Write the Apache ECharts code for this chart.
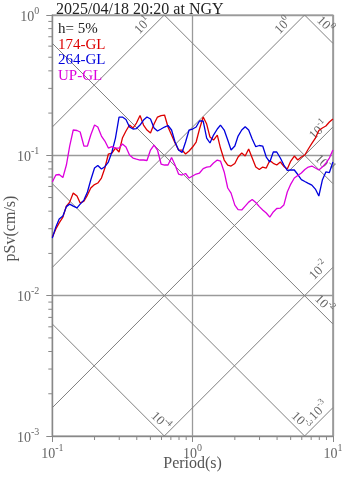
<!DOCTYPE html>
<html>
<head>
<meta charset="utf-8">
<script src="https://cdn.jsdelivr.net/npm/echarts@6/dist/echarts.min.js"></script>
<style>
html,body{margin:0;padding:0;background:#fff}
#chart{width:347px;height:478px}
</style>
</head>
<body>
<div id="chart"></div>
<script>
// Pseudo-velocity response spectra (h = 5%), tripartite log-log plot
const periods = [0.100,0.106,0.112,0.119,0.126,0.133,0.141,0.150,0.158,0.168,
  0.178,0.188,0.200,0.211,0.224,0.237,0.251,0.266,0.282,0.299,
  0.316,0.335,0.355,0.376,0.398,0.422,0.447,0.473,0.501,0.531,
  0.562,0.596,0.631,0.668,0.708,0.750,0.794,0.841,0.891,0.944,
  1.00,1.06,1.12,1.19,1.26,1.33,1.41,1.50,1.58,1.68,
  1.78,1.88,2.00,2.11,2.24,2.37,2.51,2.66,2.82,2.99,
  3.16,3.35,3.55,3.76,3.98,4.22,4.47,4.73,5.01,5.31,
  5.62,5.96,6.31,6.68,7.08,7.50,7.94,8.41,8.91,9.44,10.0];

const sv174 = [0.0261,0.0299,0.0330,0.0363,0.0435,0.0464,0.0538,0.0513,0.0457,0.0472,
  0.0521,0.0585,0.0619,0.0635,0.0689,0.0812,0.1022,0.1039,0.1127,0.1056,
  0.1328,0.1490,0.1644,0.1566,0.1699,0.1921,0.1644,0.1515,0.1442,0.1671,
  0.1874,0.1921,0.1937,0.1591,0.1395,0.1224,0.1091,0.1091,0.1022,0.1073,
  0.1146,0.1244,0.1540,0.1874,0.1671,0.1350,0.1285,0.1395,0.1127,0.0926,
  0.0853,0.0839,0.0874,0.0973,0.1039,0.0989,0.1109,0.0957,0.0825,0.0792,
  0.0825,0.0812,0.0919,0.0877,0.0853,0.0896,0.0833,0.0799,0.0911,0.0989,
  0.0926,0.0973,0.1005,0.1109,0.1217,0.1328,0.1503,0.1566,0.1617,0.1727,0.1815];

const sv264 = [0.0257,0.0309,0.0352,0.0369,0.0431,0.0449,0.0435,0.0422,0.0449,0.0480,
  0.0548,0.0667,0.0812,0.0846,0.0799,0.0830,0.0896,0.1056,0.1328,0.1874,
  0.1874,0.1799,0.1591,0.1540,0.1552,0.1644,0.1785,0.1874,0.1815,0.1566,
  0.1490,0.1540,0.1591,0.1631,0.1515,0.1244,0.1091,0.1047,0.1244,0.1515,
  0.1540,0.1591,0.1756,0.1756,0.1328,0.1224,0.1395,0.1540,0.1644,0.1515,
  0.1285,0.1091,0.1165,0.1372,0.1515,0.1600,0.1515,0.1306,0.1152,0.1175,
  0.1165,0.0973,0.0896,0.1056,0.1056,0.0957,0.0853,0.0780,0.0786,0.0786,
  0.0730,0.0672,0.0651,0.0631,0.0614,0.0575,0.0513,0.0667,0.0761,0.0754,0.0896];

const svUP = [0.0645,0.0724,0.0730,0.0695,0.0853,0.1165,0.1515,0.1503,0.1466,0.1165,
  0.1165,0.1395,0.1644,0.1591,0.1372,0.1264,0.1127,0.1152,0.1127,0.1127,
  0.1204,0.1146,0.1005,0.0957,0.0941,0.0926,0.0926,0.0919,0.1091,0.1184,
  0.1091,0.0867,0.0853,0.0853,0.0965,0.0853,0.0736,0.0724,0.0742,0.0689,
  0.0712,0.0736,0.0748,0.0805,0.0825,0.0830,0.0881,0.0926,0.0911,0.0761,
  0.0585,0.0538,0.0442,0.0411,0.0408,0.0435,0.0464,0.0484,0.0461,0.0431,
  0.0408,0.0388,0.0363,0.0395,0.0418,0.0420,0.0442,0.0548,0.0624,0.0689,
  0.0718,0.0748,0.0792,0.0825,0.0839,0.0812,0.0786,0.0825,0.0881,0.0957,0.1091];

const seriesNames = ['174-GL', '264-GL', 'UP-GL'];
const seriesColors = ['#dd0000', '#0000dd', '#dd00dd'];
const dampingNote = 'h= 5%';
const titleText = '2025/04/18 20:20 at NGY';

// axis ranges and tick labels (base 10, exponent as superscript)
const xRange = [0.1, 10];
const yRange = [0.001, 1];
const xTickValues = [0.1, 1, 10];
const xTickExp = ['-1', '0', '1'];
const yTickValues = [0.001, 0.01, 0.1, 1];
const yTickExp = ['-3', '-2', '-1', '0'];
// minor ticks at 2..9 times each decade
const minorFactors = [2, 3, 4, 5, 6, 7, 8, 9];
const xMinorDecades = [0.1, 1];
const yMinorDecades = [0.001, 0.01, 0.1];

// tripartite guide lines: constant acceleration (cm/s^2) and displacement (cm)
const accelLevels = [1e-3, 1e-2, 1e-1, 1, 10];
const dispLevels = [1e-4, 1e-3, 1e-2, 1e-1, 1];

const SERIF = '"Liberation Serif","Times New Roman",serif';
const LOG2PI = Math.log10(2 * Math.PI);
const lx0 = Math.log10(xRange[0]), lx1 = Math.log10(xRange[1]);
const ly0 = Math.log10(yRange[0]), ly1 = Math.log10(yRange[1]);
const axisGray = '#888';

function supLabel(exp) { return '{b|10}{s|' + exp + '}'; }

function guideLabel(exp, rot, gap) {
  return {
    show: true,
    formatter: supLabel(exp),
    position: 'inside',
    rotate: rot,
    align: 'right',
    verticalAlign: 'bottom',
    padding: [0, gap, 1, 0],
    color: '#666',
    rich: {
      b: { fontFamily: SERIF, fontSize: 13, color: '#666', lineHeight: 16, verticalAlign: 'bottom' },
      s: { fontFamily: SERIF, fontSize: 9, color: '#666', lineHeight: 9, verticalAlign: 'top' }
    }
  };
}

// constant-acceleration line, labelled at its upper end
function accelSeries(a) {
  const la = Math.log10(a);
  const t0 = Math.max(lx0, ly0 - la + LOG2PI);
  const t1 = Math.min(lx1, ly1 - la + LOG2PI);
  const exitsTop = t1 < lx1;
  return {
    type: 'line', silent: true, clip: false, z: 1, animation: false,
    symbol: 'circle', symbolSize: 1, showSymbol: true,
    itemStyle: { color: 'rgba(0,0,0,0)' },
    lineStyle: { color: '#808080', width: 1 },
    data: [
      [Math.pow(10, t0), Math.pow(10, la + t0 - LOG2PI)],
      { value: [Math.pow(10, t1), Math.pow(10, la + t1 - LOG2PI)],
        label: guideLabel(String(Math.round(la)), 45, exitsTop ? 14 : 2) }
    ]
  };
}

// constant-displacement line, labelled at its lower end
function dispSeries(d) {
  const ld = Math.log10(d);
  const t0 = Math.max(lx0, ld + LOG2PI - ly1);
  const t1 = Math.min(lx1, ld + LOG2PI - ly0);
  const exitsRight = t1 >= lx1;
  return {
    type: 'line', silent: true, clip: false, z: 1, animation: false,
    symbol: 'circle', symbolSize: 1, showSymbol: true,
    itemStyle: { color: 'rgba(0,0,0,0)' },
    lineStyle: { color: '#808080', width: 1 },
    data: [
      [Math.pow(10, t0), Math.pow(10, ld + LOG2PI - t0)],
      { value: [Math.pow(10, t1), Math.pow(10, ld + LOG2PI - t1)],
        label: guideLabel(String(Math.round(ld)), -45, exitsRight ? 10 : 3) }
    ]
  };
}

function spectrumSeries(name, color, values) {
  return {
    name: name, type: 'line', z: 5, animation: false,
    showSymbol: false, symbol: 'none',
    lineStyle: { color: color, width: 1.3 },
    itemStyle: { color: color },
    data: periods.map((t, i) => [t, values[i]])
  };
}

// short outside tick marks for the 2..9 subdivisions of each decade
function minorTickSeries(isX) {
  const decades = isX ? xMinorDecades : yMinorDecades;
  const vals = [];
  decades.forEach(d => minorFactors.forEach(f => vals.push(d * f)));
  return {
    type: 'custom', silent: true, clip: false, z: 3, animation: false,
    data: vals.map(v => isX ? [v, yRange[0]] : [xRange[0], v]),
    renderItem: function (params, api) {
      const p = api.coord([api.value(0), api.value(1)]);
      const shape = isX
        ? { x1: p[0], y1: p[1], x2: p[0], y2: p[1] + 4 }
        : { x1: p[0] - 4, y1: p[1], x2: p[0], y2: p[1] };
      return { type: 'line', shape: shape, style: { stroke: axisGray, lineWidth: 1 } };
    }
  };
}

const tickRich = {
  b: { fontFamily: SERIF, fontSize: 14, color: '#666', lineHeight: 18, verticalAlign: 'bottom' },
  s: { fontFamily: SERIF, fontSize: 10, color: '#666', lineHeight: 10, verticalAlign: 'top' }
};

function tickFormatter(values, exps) {
  return function (v) {
    for (let i = 0; i < values.length; i++) {
      if (Math.abs(Math.log10(v) - Math.log10(values[i])) < 1e-6) return supLabel(exps[i]);
    }
    return '';
  };
}

const chart = echarts.init(document.getElementById('chart'), null, { renderer: 'canvas' });

const legendLines = [dampingNote].concat(seriesNames);
const legendColors = ['#222'].concat(seriesColors);

chart.setOption({
  animation: false,
  backgroundColor: '#fff',
  title: {
    text: titleText, left: 51, top: -3,
    textStyle: { fontFamily: SERIF, fontSize: 16, fontWeight: 'normal', color: '#222' }
  },
  grid: {
    left: 52.3, top: 15, width: 280.6, height: 421,
    outerBoundsMode: 'none', containLabel: false,
    show: true, borderColor: axisGray, borderWidth: 1.2, backgroundColor: 'transparent'
  },
  xAxis: {
    type: 'log', logBase: 10, min: xRange[0], max: xRange[1],
    name: 'Period(s)', nameLocation: 'middle', nameGap: 20, nameMoveOverlap: false,
    nameTextStyle: { fontFamily: SERIF, fontSize: 16, color: '#555' },
    axisLine: { show: true, onZero: false, lineStyle: { color: axisGray, width: 1.2 } },
    axisTick: { show: true, length: 6, lineStyle: { color: axisGray } },
    minorTick: { show: false },
    splitLine: { show: true, lineStyle: { color: '#9a9a9a', width: 1.3 } },
    axisLabel: { margin: 7, formatter: tickFormatter(xTickValues, xTickExp), rich: tickRich }
  },
  yAxis: {
    type: 'log', logBase: 10, min: yRange[0], max: yRange[1],
    name: 'pSv(cm/s)', nameLocation: 'middle', nameGap: 34, nameMoveOverlap: false,
    nameTextStyle: { fontFamily: SERIF, fontSize: 16, color: '#555', padding: [0, 6, 0, 0] },
    axisLine: { show: true, onZero: false, lineStyle: { color: axisGray, width: 1.2 } },
    axisTick: { show: true, length: 6, lineStyle: { color: axisGray } },
    minorTick: { show: false },
    splitLine: { show: true, lineStyle: { color: '#9a9a9a', width: 1.3 } },
    axisLabel: { margin: 13, formatter: tickFormatter(yTickValues, yTickExp), rich: tickRich }
  },
  graphic: legendLines.map((txt, i) => ({
    type: 'text', left: 58, top: 22 + i * 15.4, z: 10, silent: true,
    style: { text: txt, fill: legendColors[i], font: '15px ' + SERIF }
  })),
  series: []
    .concat(accelLevels.map(accelSeries))
    .concat(dispLevels.map(dispSeries))
    .concat([minorTickSeries(true), minorTickSeries(false)])
    .concat([
      spectrumSeries(seriesNames[0], seriesColors[0], sv174),
      spectrumSeries(seriesNames[1], seriesColors[1], sv264),
      spectrumSeries(seriesNames[2], seriesColors[2], svUP)
    ])
});
</script>
</body>
</html>
